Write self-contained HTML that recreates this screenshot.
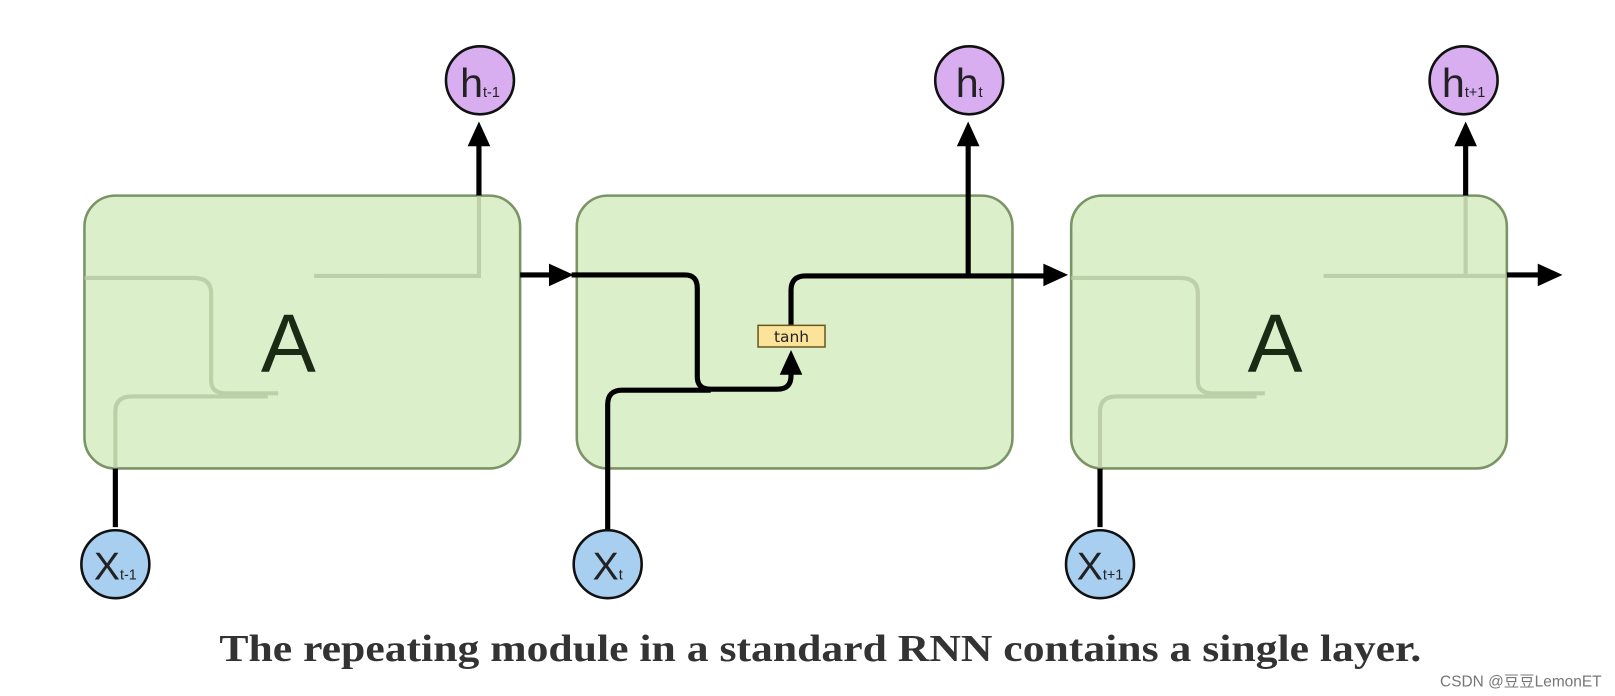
<!DOCTYPE html>
<html><head><meta charset="utf-8"><style>
html,body{margin:0;padding:0;background:#fff;width:1615px;height:696px;overflow:hidden}
</style></head><body>
<svg width="1615" height="696" viewBox="0 0 1568 676" preserveAspectRatio="none" xmlns="http://www.w3.org/2000/svg">
<g fill="#dcefcb" stroke="#7b9465" stroke-width="2.5">
<rect x="82" y="190" width="423" height="265" rx="30"/>
<rect x="560" y="190" width="423" height="265" rx="30"/>
<rect x="1040" y="190" width="423" height="265" rx="30"/>
</g>
<g fill="none" stroke="#b5c8a0" stroke-width="4" opacity="0.8">
<path d="M82 270 H188 Q205 270 205 285 V370 Q205 382 220 382 H270"/>
<path d="M112 455 V400 Q112 385 128 385 H260"/>
<path d="M305 268 H465 V190"/>
<path d="M1040 270 H1146 Q1163 270 1163 285 V370 Q1163 382 1178 382 H1228"/>
<path d="M1068 455 V400 Q1068 385 1084 385 H1220"/>
<path d="M1285 268 H1463 M1423 268 V190"/>
</g>
<g fill="none" stroke="#000" stroke-width="5">
<path d="M465 190 V140"/>
<path d="M505 267 H535"/>
<path d="M555 267 H665 Q677 267 677 280 V366 Q677 378 690 378 H755 Q768 378 768 365 V360"/>
<path d="M590 515 V393 Q590 379 604 379 H690"/>
<path d="M768 317 V282 Q768 268 782 268 H1015"/>
<path d="M940 268 V140"/>
<path d="M112 455 V512"/>
<path d="M1068 455 V512"/>
<path d="M1423 190 V140"/>
<path d="M1463 267 H1495"/>
</g>
<g fill="#000">
<polygon points="533,256 557,267 533,278"/>
<polygon points="1013,256 1037,267 1013,278"/>
<polygon points="1493,256 1517,267 1493,278"/>
<polygon points="454,142 465,118 476,142"/>
<polygon points="929,142 940,118 951,142"/>
<polygon points="1412,142 1423,118 1434,142"/>
<polygon points="757,364 768,340 779,364"/>
</g>
<rect x="736" y="316" width="65" height="21" fill="#fbe39a" stroke="#6b5a20" stroke-width="1.5"/>
<text x="768.5" y="332" font-family="DejaVu Sans, sans-serif" font-size="15" text-anchor="middle" fill="#222">tanh</text>
<g font-family="Liberation Sans, sans-serif" fill="#1a2a14">
<text x="280" y="361" font-size="80" text-anchor="middle">A</text>
<text x="1238" y="361" font-size="80" text-anchor="middle">A</text>
</g>
<g stroke="#111" stroke-width="2.5">
<circle cx="466" cy="78" r="33" fill="#d9aef0"/>
<circle cx="941" cy="78" r="33" fill="#d9aef0"/>
<circle cx="1421" cy="78" r="33" fill="#d9aef0"/>
<circle cx="112" cy="548" r="33" fill="#a9cff0"/>
<circle cx="590" cy="548" r="33" fill="#a9cff0"/>
<circle cx="1068" cy="548" r="33" fill="#a9cff0"/>
</g>
<g font-family="Liberation Sans, sans-serif" fill="#222" text-anchor="middle">
<text x="466" y="94" font-size="40">h<tspan font-size="14">t-1</tspan></text>
<text x="941" y="94" font-size="40">h<tspan font-size="14">t</tspan></text>
<text x="1421" y="94" font-size="40">h<tspan font-size="14">t+1</tspan></text>
<text x="112" y="563" font-size="38">X<tspan font-size="14">t-1</tspan></text>
<text x="590" y="563" font-size="38">X<tspan font-size="14">t</tspan></text>
<text x="1068" y="563" font-size="38">X<tspan font-size="14">t+1</tspan></text>
</g>
<text x="213" y="642" font-family="Liberation Serif, serif" font-weight="bold" font-size="37" textLength="1167" lengthAdjust="spacingAndGlyphs" fill="#333">The repeating module in a standard RNN contains a single layer.</text>
<text x="1555" y="667" font-family="Liberation Sans, Noto Sans CJK SC, sans-serif" font-size="15" text-anchor="end" fill="#777">CSDN @豆豆LemonET</text>
</svg>
</body></html>
